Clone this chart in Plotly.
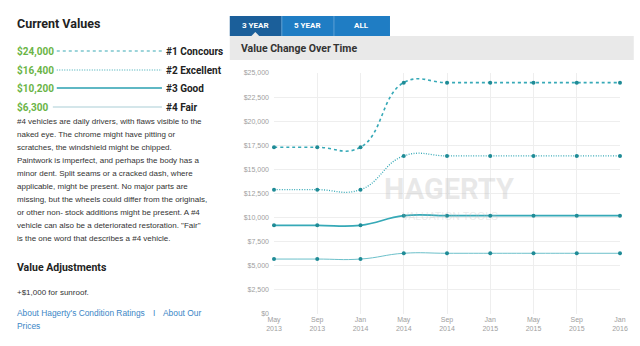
import plotly.graph_objects as go

months = ["May 2013", "Sep 2013", "Jan 2014", "May 2014", "Sep 2014",
          "Jan 2015", "May 2015", "Sep 2015", "Jan 2016"]
month_labels = ["May<br>2013", "Sep<br>2013", "Jan<br>2014", "May<br>2014", "Sep<br>2014",
                "Jan<br>2015", "May<br>2015", "Sep<br>2015", "Jan<br>2016"]
concours = [17300, 17300, 17300, 24000, 24000, 24000, 24000, 24000, 24000]
excellent = [12900, 12900, 12900, 16400, 16400, 16400, 16400, 16400, 16400]
good = [9200, 9200, 9200, 10200, 10200, 10200, 10200, 10200, 10200]
fair = [5700, 5700, 5700, 6300, 6300, 6300, 6300, 6300, 6300]

current_values = ["$24,000", "$16,400", "$10,200", "$6,300"]
condition_names = ["#1 Concours", "#2 Excellent", "#3 Good", "#4 Fair"]
tabs = ["3 YEAR", "5 YEAR", "ALL"]
description = [
    "#4 vehicles are daily drivers, with flaws visible to the",
    "naked eye. The chrome might have pitting or",
    "scratches, the windshield might be chipped.",
    "Paintwork is imperfect, and perhaps the body has a",
    "minor dent. Split seams or a cracked dash, where",
    "applicable, might be present. No major parts are",
    "missing, but the wheels could differ from the originals,",
    "or other non- stock additions might be present. A #4",
    "vehicle can also be a deteriorated restoration. \"Fair\"",
    "is the one word that describes a #4 vehicle.",
]

W, H = 640, 346
L, R, T, B = 274, 14, 73, 32
PW, PH = W - L - R, H - T - B
PAD = 3  # annotation internal padding


def px(x):
    return (x - L) / PW


def pxl(x):
    return (x - PAD - L) / PW


def py(y):
    return (H - B - y) / PH


LINE = "#36a9b7"
MARK = "#1f8b96"
COND = "Roboto, sans-serif"
BODY = "Liberation Sans, Arial, sans-serif"

fig = go.Figure()
series = [
    (concours, dict(color=LINE, width=1.6, dash="3px,3px")),
    (excellent, dict(color=LINE, width=1.3, dash="1px,1.5px")),
    (good, dict(color=LINE, width=1.8)),
    (fair, dict(color="#6cc0ca", width=1)),
]
for vals, ln in series:
    fig.add_trace(go.Scatter(
        x=months, y=vals, mode="lines+markers",
        line=dict(shape="spline", smoothing=1.3, **ln),
        marker=dict(size=4, color=MARK),
        cliponaxis=False, showlegend=False, hoverinfo="skip"))

shapes = []
ann = []

# tabs
tab_x = [(229, 282, "#1b5f9a"), (282, 335, "#1f7dc4"), (335, 392, "#1f7dc4")]
for (x0, x1, c), t in zip(tab_x, tabs):
    shapes.append(dict(type="rect", xref="paper", yref="paper",
                       x0=px(x0), x1=px(x1), y0=py(36), y1=py(16),
                       fillcolor=c, line=dict(width=0)))
    ann.append(dict(text="<b>" + t + "</b>", x=px((x0 + x1) / 2), y=py(25),
                    font=dict(family=COND, size=8, color="white")))
for xs in (282, 335):
    shapes.append(dict(type="line", xref="paper", yref="paper",
                       x0=px(xs), x1=px(xs), y0=py(36), y1=py(16),
                       line=dict(color="#5a9fd3", width=1)))
# header bar
shapes.append(dict(type="rect", xref="paper", yref="paper",
                   x0=px(229), x1=px(640), y0=py(60), y1=py(36),
                   fillcolor="#e9e9e9", line=dict(width=0)))
shapes.append(dict(type="path", xref="paper", yref="paper",
                   path="M %f,%f L %f,%f L %f,%f Z" % (px(251), py(36), px(255), py(32), px(259), py(36)),
                   fillcolor="#e9e9e9", line=dict(width=0)))
ann.append(dict(text="<b>Value Change Over Time</b>", x=pxl(241), y=py(49), xanchor="left",
                font=dict(family=COND, size=10.5, color="#333333")))

# watermark
ann.append(dict(text="<b>HAGERTY</b>", x=px(452), y=py(189),
                font=dict(family=COND, size=29, color="rgba(190,190,190,0.35)")))
ann.append(dict(text="VALUATION TOOLS", x=px(453), y=py(216),
                font=dict(family=BODY, size=10.5, color="rgba(190,190,190,0.3)")))

# left panel
ann.append(dict(text="<b>Current Values</b>", x=pxl(14), y=py(23), xanchor="left",
                font=dict(family=COND, size=12.5, color="#222222")))
row_y = [51, 70, 88, 107]
samples = [
    dict(color="#3aa9b5", width=1.2, dash="3px,3px"),
    dict(color="#3aa9b5", width=1.2, dash="1px,1.5px"),
    dict(color="#2aa0b0", width=1.6),
    dict(color="#a9cdd5", width=1),
]
for yv, cv, cn, ln in zip(row_y, current_values, condition_names, samples):
    ann.append(dict(text="<b>" + cv + "</b>", x=pxl(14), y=py(yv), xanchor="left",
                    font=dict(family=COND, size=10, color="#6ab446")))
    ann.append(dict(text="<b>" + cn + "</b>", x=pxl(165), y=py(yv), xanchor="left",
                    font=dict(family=COND, size=10, color="#222222")))
    shapes.append(dict(type="line", xref="paper", yref="paper",
                       x0=px(53 if yv < 100 else 49), x1=px(160), y0=py(yv), y1=py(yv),
                       line=ln))
for i, line in enumerate(description):
    ann.append(dict(text=line, x=pxl(14), y=py(121 + 13 * i), xanchor="left",
                    font=dict(family=BODY, size=8, color="#333333")))
ann.append(dict(text="<b>Value Adjustments</b>", x=pxl(14), y=py(267), xanchor="left",
                font=dict(family=COND, size=10.5, color="#222222")))
ann.append(dict(text="+$1,000 for sunroof.", x=pxl(14), y=py(292), xanchor="left",
                font=dict(family=BODY, size=8, color="#333333")))
LINK = "#3b86c6"
ann.append(dict(text="About Hagerty's Condition Ratings", x=pxl(14), y=py(313), xanchor="left",
                font=dict(family=BODY, size=8.4, color=LINK)))
ann.append(dict(text="I", x=px(152), y=py(313), xanchor="center",
                font=dict(family=BODY, size=8.4, color=LINK)))
ann.append(dict(text="About Our", x=pxl(162), y=py(313), xanchor="left",
                font=dict(family=BODY, size=8.4, color=LINK)))
ann.append(dict(text="Prices", x=pxl(14), y=py(326), xanchor="left",
                font=dict(family=BODY, size=8.4, color=LINK)))

for a in ann:
    a.setdefault("xanchor", "center")
    a.update(xref="paper", yref="paper", yanchor="middle", showarrow=False)

fig.update_layout(
    width=W, height=H,
    margin=dict(l=L, r=R, t=T, b=B, pad=0),
    paper_bgcolor="white", plot_bgcolor="white",
    shapes=shapes, annotations=ann,
    xaxis=dict(type="category", range=[0, len(months) - 1],
               tickmode="array", tickvals=months, ticktext=month_labels,
               showgrid=True, gridcolor="#eeeeee", gridwidth=1,
               zeroline=False, showline=False, ticks="",
               tickfont=dict(family=BODY, size=7, color="#a0a0a0")),
    yaxis=dict(range=[0, 25000], dtick=2500, tickprefix="$", tickformat=",",
               showgrid=True, gridcolor="#eeeeee", gridwidth=1,
               zeroline=False, showline=False, ticks="", ticklabelstandoff=4,
               tickfont=dict(family=BODY, size=7, color="#a0a0a0")),
)

fig.write_html("out.html")
